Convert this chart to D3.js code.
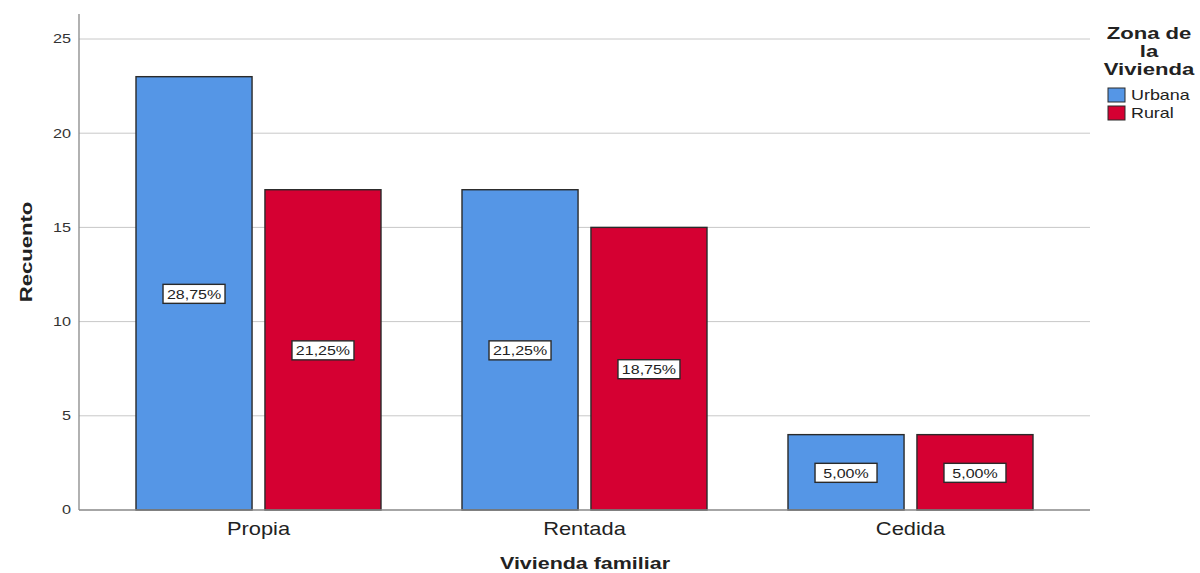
<!DOCTYPE html>
<html>
<head>
<meta charset="utf-8">
<script src="https://cdn.jsdelivr.net/npm/d3@7"></script>
<style>
  body { margin: 0; background: #fff; }
  svg { display: block; font-family: Arial, "Liberation Sans", sans-serif; }
</style>
</head>
<body>
<svg width="1200" height="573"></svg>
<script>
'use strict';

const categories = ["Propia", "Rentada", "Cedida"];
const series = ["Urbana", "Rural"];
const urbana = [23, 17, 4];
const rural = [17, 15, 4];
const urbanaPct = ["28,75%", "21,25%", "5,00%"];
const ruralPct = ["21,25%", "18,75%", "5,00%"];
const yTicks = [0, 5, 10, 15, 20, 25];
const colors = ["#5596E6", "#D50032"];

const svg = d3.select("svg");
const plotLeft = 79, plotRight = 1090, plotTop = 14, plotBottom = 510;

// the reference text is drawn wide, so stretch it horizontally about its anchor
const stretch = (sel, s, xFn) =>
    sel.attr("transform", (d, i) => {
        const x0 = typeof xFn === "function" ? xFn(d, i) : xFn;
        return `translate(${x0},0) scale(${s},1) translate(${-x0},0)`;
    });

const y = d3.scaleLinear().domain([0, 25]).range([plotBottom, 39]);
const x = d3.scaleBand().domain(categories).range([95.5, 1073.5]);
const xs = d3.scaleBand().domain(series).range([0, 245]).paddingInner(0.1);

// grid
svg.append("g").selectAll("line")
    .data(yTicks.filter(d => d > 0))
    .join("line")
    .attr("x1", plotLeft).attr("x2", plotRight)
    .attr("y1", d => y(d)).attr("y2", d => y(d))
    .attr("stroke", "#c8c8c8").attr("stroke-width", 1);

// y tick labels
svg.append("g").selectAll("text")
    .data(yTicks)
    .join("text")
    .attr("x", 71).attr("y", d => y(d) + 4.5)
    .attr("text-anchor", "end")
    .attr("font-size", 12.5).attr("fill", "#333")
    .text(d => d)
    .call(stretch, 1.3, 71);

// bars
const rows = categories.map((c, i) => ({
    cat: c,
    vals: [
        { s: series[0], v: urbana[i], p: urbanaPct[i] },
        { s: series[1], v: rural[i], p: ruralPct[i] }
    ]
}));

const grp = svg.append("g").selectAll("g")
    .data(rows)
    .join("g")
    .attr("transform", d => `translate(${x(d.cat) + x.bandwidth() / 2 - 122.5},0)`);

grp.selectAll("rect")
    .data(d => d.vals)
    .join("rect")
    .attr("x", d => xs(d.s))
    .attr("y", d => y(d.v))
    .attr("width", xs.bandwidth())
    .attr("height", d => plotBottom - y(d.v))
    .attr("fill", (d, i) => colors[i])
    .attr("stroke", "#2a2a2a").attr("stroke-width", 1.4);

// value labels
const lab = grp.selectAll("g.lab")
    .data(d => d.vals)
    .join("g")
    .attr("class", "lab")
    .attr("transform", d => `translate(${xs(d.s) + xs.bandwidth() / 2},${y(d.v / 2) + 1})`);

lab.append("rect")
    .attr("x", -31).attr("y", -10)
    .attr("width", 62).attr("height", 19)
    .attr("fill", "#fff").attr("stroke", "#2a2a2a").attr("stroke-width", 1.4);

lab.append("text")
    .attr("text-anchor", "middle").attr("y", 4.5)
    .attr("font-size", 12.5).attr("fill", "#222")
    .text(d => d.p)
    .call(stretch, 1.28, 0);

// axes lines
svg.append("line").attr("x1", plotLeft).attr("x2", plotLeft).attr("y1", plotTop).attr("y2", plotBottom)
    .attr("stroke", "#888").attr("stroke-width", 1.3);
svg.append("line").attr("x1", plotLeft).attr("x2", plotRight).attr("y1", plotBottom).attr("y2", plotBottom)
    .attr("stroke", "#888").attr("stroke-width", 1.3);

// category labels
svg.append("g").selectAll("text")
    .data(categories)
    .join("text")
    .attr("x", d => x(d) + x.bandwidth() / 2)
    .attr("y", 535)
    .attr("text-anchor", "middle")
    .attr("font-size", 17.5).attr("fill", "#222")
    .text(d => d)
    .call(stretch, 1.25, d => x(d) + x.bandwidth() / 2);

// axis titles
svg.append("text")
    .attr("x", 585).attr("y", 569)
    .attr("text-anchor", "middle")
    .attr("font-size", 16.5).attr("font-weight", "bold").attr("fill", "#222")
    .text("Vivienda familiar")
    .call(stretch, 1.3, 585);

svg.append("text")
    .attr("transform", "translate(32,252) rotate(-90) scale(1.3,1)")
    .attr("text-anchor", "middle")
    .attr("font-size", 17).attr("font-weight", "bold").attr("fill", "#222")
    .text("Recuento");

// legend
const legTitle = ["Zona de", "la", "Vivienda"];
svg.append("g").selectAll("text")
    .data(legTitle)
    .join("text")
    .attr("x", 1149).attr("y", (d, i) => 39 + i * 18)
    .attr("text-anchor", "middle")
    .attr("font-size", 17).attr("font-weight", "bold").attr("fill", "#222")
    .text(d => d)
    .call(stretch, 1.3, 1149);

const leg = svg.append("g").selectAll("g")
    .data(series)
    .join("g")
    .attr("transform", (d, i) => `translate(1108,${88 + i * 18})`);

leg.append("rect")
    .attr("width", 17).attr("height", 14)
    .attr("fill", (d, i) => colors[i])
    .attr("stroke", "#2a2a2a").attr("stroke-width", 1);

leg.append("text")
    .attr("x", 23).attr("y", 12)
    .attr("font-size", 14).attr("fill", "#222")
    .text(d => d)
    .call(stretch, 1.28, 23);
</script>
</body>
</html>
